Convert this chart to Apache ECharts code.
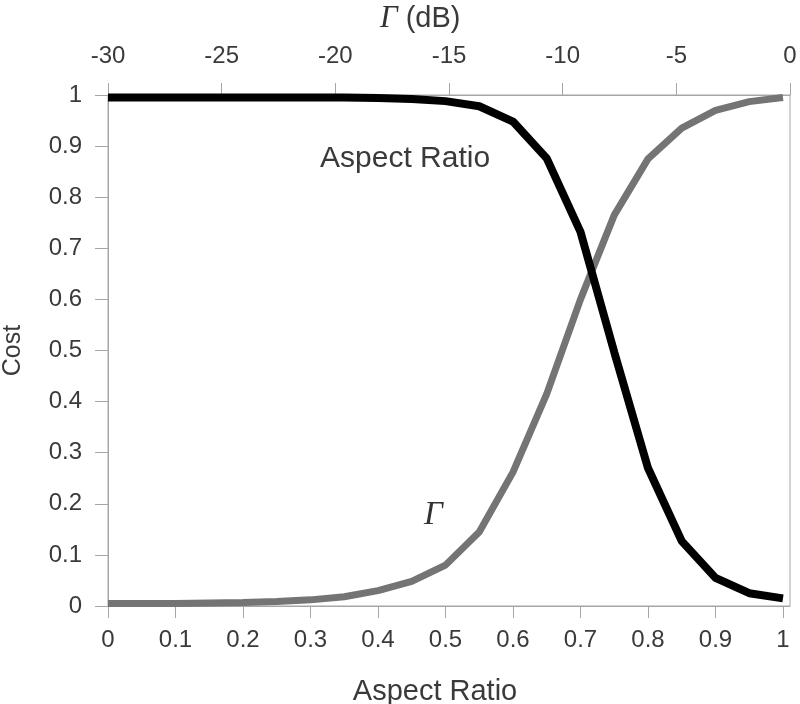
<!DOCTYPE html>
<html>
<head>
<meta charset="utf-8">
<script src="https://cdn.jsdelivr.net/npm/echarts@6/dist/echarts.min.js"></script>
<style>
  html, body { margin: 0; padding: 0; background: #fff; }
  #chart { width: 800px; height: 704px; }
</style>
</head>
<body>
<div id="chart"></div>
<script>
// aspect ratio samples (bottom axis)
const aspectRatio = [0, 0.05, 0.1, 0.15, 0.2, 0.25, 0.3, 0.35, 0.4, 0.45, 0.5,
  0.55, 0.6, 0.65, 0.7, 0.75, 0.8, 0.85, 0.9, 0.95, 1]
// cost of aspect ratio (black)
const costAspect = [0.995, 0.995, 0.995, 0.995, 0.995, 0.995, 0.995, 0.995, 0.994, 0.992, 0.988,
  0.978, 0.948, 0.876, 0.732, 0.497, 0.27, 0.127, 0.055, 0.025, 0.015]
// cost of Γ (gray)
const costGamma = [0.005, 0.005, 0.005, 0.006, 0.007, 0.009, 0.012, 0.018, 0.03, 0.048, 0.08,
  0.145, 0.262, 0.415, 0.6, 0.765, 0.875, 0.935, 0.97, 0.987, 0.995]
const bottomTicks = [0, 0.1, 0.2, 0.3, 0.4, 0.5, 0.6, 0.7, 0.8, 0.9, 1]

const font = 'Liberation Sans, Arial, sans-serif'
const serif = 'Liberation Serif, Times New Roman, serif'
const axisGray = '#a6a6a6'
const textColor = '#3a3a3a'

const chart = echarts.init(document.getElementById('chart'))
chart.setOption({
  animation: false,
  title: {
    left: 375,
    top: -2,
    text: '{g|Γ}{d| (dB)}',
    textStyle: {
      fontWeight: 'normal',
      rich: {
        g: { fontFamily: serif, fontStyle: 'italic', fontWeight: 'normal', fontSize: 31, color: '#333' },
        d: { fontFamily: font, fontWeight: 'normal', fontSize: 29, color: textColor },
      },
    },
  },
  grid: {
    left: 108,
    right: 10,
    top: 95,
    bottom: 98,
    containLabel: false,
    outerBoundsMode: 'none',
    show: true,
    borderColor: axisGray,
    borderWidth: 1,
  },
  xAxis: [
    {
      type: 'value',
      position: 'bottom',
      min: 0,
      max: 1.0104,
      name: 'Aspect Ratio',
      nameLocation: 'middle',
      nameGap: 71,
      nameTextStyle: { fontFamily: font, fontSize: 29, color: textColor, padding: [0, 28, 0, 0] },
      axisLine: { show: true, lineStyle: { color: axisGray } },
      axisTick: { show: true, length: 12, customValues: bottomTicks, lineStyle: { color: axisGray } },
      axisLabel: { customValues: bottomTicks, margin: 22, fontFamily: font, fontSize: 24, color: textColor },
      splitLine: { show: false },
    },
    {
      type: 'value',
      position: 'top',
      min: -30,
      max: 0,
      interval: 5,
      axisLine: { show: true, lineStyle: { color: axisGray } },
      axisTick: { show: true, length: 12, lineStyle: { color: axisGray } },
      axisLabel: { margin: 27, fontFamily: font, fontSize: 24, color: textColor },
      splitLine: { show: false },
    },
  ],
  yAxis: {
    type: 'value',
    min: 0,
    max: 1,
    interval: 0.1,
    name: 'Cost',
    nameLocation: 'middle',
    nameGap: 82,
    nameTextStyle: { fontFamily: font, fontSize: 25, color: textColor },
    axisLine: { show: true, lineStyle: { color: axisGray } },
    axisTick: { show: true, length: 13, lineStyle: { color: axisGray } },
    axisLabel: { margin: 26, fontFamily: font, fontSize: 24, color: textColor },
    splitLine: { show: false },
  },
  graphic: [
    {
      type: 'text',
      left: 320,
      top: 144,
      style: { text: 'Aspect Ratio', font: '30px ' + font, fill: textColor },
    },
    {
      type: 'text',
      left: 424,
      top: 499,
      style: { text: 'Γ', font: 'italic 33px ' + serif, fill: '#333' },
    },
  ],
  series: [
    {
      name: 'Γ',
      type: 'line',
      xAxisIndex: 0,
      data: aspectRatio.map((x, i) => [x, costGamma[i]]),
      showSymbol: false,
      lineStyle: { color: '#747474', width: 7 },
      z: 2,
    },
    {
      name: 'Aspect Ratio',
      type: 'line',
      xAxisIndex: 0,
      data: aspectRatio.map((x, i) => [x, costAspect[i]]),
      showSymbol: false,
      lineStyle: { color: '#000000', width: 8 },
      z: 3,
    },
  ],
})
</script>
</body>
</html>
